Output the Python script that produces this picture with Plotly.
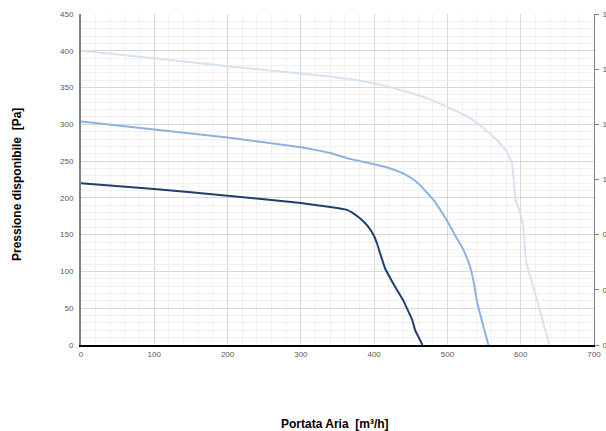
import plotly.graph_objects as go

# Curve data (portata [m3/h], pressione [Pa])
low_x = [0, 100, 200, 300, 345, 362, 370, 381, 391, 399, 404, 408, 415, 423, 431, 440, 447, 452, 456, 461, 466]
low_y = [220, 212, 203, 193, 187, 184, 180, 172, 162, 150, 138, 125, 104, 89, 75, 60, 45, 34, 20, 10, 0]

mid_x = [0, 100, 200, 300, 340, 367, 399, 422, 440, 455, 465, 474, 482, 490, 499, 510, 522, 531, 536, 540, 547, 556]
mid_y = [304, 293, 282, 269, 261, 253, 246, 240, 233, 224, 215, 205, 196, 184, 170, 150, 129, 106, 85, 61, 33, 0]

high_x = [0, 100, 200, 300, 340, 370, 399, 431, 449, 476, 503, 526, 544, 567, 581, 588, 590, 593, 598, 603, 605, 607, 613, 626, 639]
high_y = [400, 390, 379, 369, 365, 361, 356, 348, 343, 334, 322, 311, 299, 279, 263, 247, 229, 197, 183, 165, 143, 115, 93, 48, 0]

x_ticks = [0, 100, 200, 300, 400, 500, 600, 700]
y_ticks = [0, 50, 100, 150, 200, 250, 300, 350, 400, 450]
right_tick_pos = [0, 75, 150, 225, 300, 375, 450]
right_tick_labels = ["0", "0", "0", "1", "1", "1", "1"]

colors = ["#1F3F6E", "#8DB2E0", "#D6E3F3"]

fig = go.Figure()
for xs, ys, c in [(high_x, high_y, colors[2]), (mid_x, mid_y, colors[1]), (low_x, low_y, colors[0])]:
    fig.add_trace(go.Scatter(x=xs, y=ys, mode="lines", line=dict(color=c, width=2, shape="spline", smoothing=0.3),
                             showlegend=False, hoverinfo="skip"))

fig.add_trace(go.Scatter(x=[None], y=[None], yaxis="y2", showlegend=False, hoverinfo="skip"))

tick_font = dict(family="Liberation Sans, Arial, sans-serif", size=8, color="#595959")
title_font = dict(family="Liberation Sans, Arial, sans-serif", size=12, color="#000000")

fig.update_layout(
    width=606, height=431,
    margin=dict(l=81, r=12, t=14, b=86, autoexpand=False),
    paper_bgcolor="white", plot_bgcolor="white",
    xaxis=dict(range=[0, 700], tickvals=x_ticks, ticks="", showline=True, linecolor="#000000", linewidth=2,
               showgrid=True, gridcolor="#D9D9D9", gridwidth=1, zeroline=False, tickfont=tick_font, automargin=False,
               minor=dict(dtick=20, showgrid=True, gridcolor="#F0F0F0", gridwidth=1)),
    yaxis=dict(range=[0, 450], tickvals=y_ticks, ticks="", showline=True, linecolor="#808080", linewidth=2,
               showgrid=True, gridcolor="#D9D9D9", gridwidth=1, zeroline=False, tickfont=tick_font, automargin=False,
               minor=dict(dtick=10, showgrid=True, gridcolor="#F0F0F0", gridwidth=1), ticklabelstandoff=4),
    yaxis2=dict(range=[0, 450], overlaying="y", side="right", tickvals=right_tick_pos, ticktext=right_tick_labels,
                ticks="outside", ticklen=4, tickcolor="#808080", showline=True, linecolor="#808080", linewidth=1,
                showgrid=False, zeroline=False, tickfont=tick_font, automargin=False, ticklabelstandoff=2),
    annotations=[
        dict(text="<b>Portata Aria  [m³/h]</b>", x=(335 - 81) / 513, y=-(424 - 345) / 331, xref="paper", yref="paper",
             showarrow=False, font=title_font, xanchor="center", yanchor="middle"),
        dict(text="<b>Pressione disponibile  [Pa]</b>", x=(17 - 81) / 513, y=(345 - 185) / 331, xref="paper", yref="paper",
             showarrow=False, textangle=-90, font=title_font, xanchor="center", yanchor="middle"),
    ],
)

fig.write_html("out.html", config={"displayModeBar": False, "staticPlot": True},
               post_script="document.body.style.margin='0';document.body.style.overflow='hidden';")
